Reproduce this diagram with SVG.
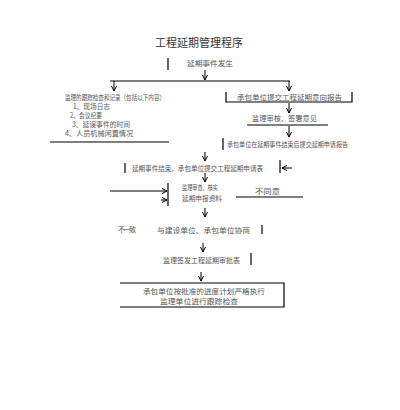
<svg xmlns="http://www.w3.org/2000/svg" width="400" height="410" viewBox="0 0 400 410">
<defs>
<marker id="ah" markerWidth="6" markerHeight="6" refX="5" refY="3" orient="auto" markerUnits="userSpaceOnUse">
<path d="M0,0.5 L5,3 L0,5.5" fill="none" stroke="#000" stroke-width="1"/>
</marker>
<style>
.t{font-family:"Noto Sans CJK SC","Noto Sans",sans-serif;font-size:7px;fill:#555;}
.ti{font-family:"Noto Sans CJK SC","Noto Sans",sans-serif;font-size:11px;fill:#333;}
.b{fill:none;stroke:#000;stroke-width:1.2;}
.c{fill:none;stroke:#000;stroke-width:1;}
.a{marker-end:url(#ah);}
</style>
</defs>
<rect width="400" height="410" fill="#fff"/>
<text class="ti" x="155" y="47" textLength="88" lengthAdjust="spacingAndGlyphs">工程延期管理程序</text>

<g id="n1">
<path class="b" d="M168,58 V70"/>
<text class="t" x="187" y="66" textLength="46" lengthAdjust="spacingAndGlyphs">延期事件发生</text>
</g>
<g id="n2">
<text class="t" x="65" y="100" textLength="100" lengthAdjust="spacingAndGlyphs">监理的跟踪检查和记录（包括以下内容）</text>
<text class="t" x="73" y="109" textLength="37" lengthAdjust="spacingAndGlyphs">1、现场日志</text>
<text class="t" x="70" y="118" textLength="32" lengthAdjust="spacingAndGlyphs">2、会议纪要</text>
<text class="t" x="72" y="127" textLength="58" lengthAdjust="spacingAndGlyphs">3、延误事件的时间</text>
<text class="t" x="65" y="136" textLength="68" lengthAdjust="spacingAndGlyphs">4、人员机械闲置情况</text>
<path class="b" d="M50,142 H169"/>
</g>
<g id="n3">
<path class="b" d="M226,92 V102 H352 V92"/>
<text class="t" x="237" y="100" textLength="105" lengthAdjust="spacingAndGlyphs">承包单位提交工程延期意向报告</text>
</g>
<g id="n4">
<text class="t" x="252" y="121" textLength="65" lengthAdjust="spacingAndGlyphs">监理审核、签署意见</text>
<path class="b" d="M247,125 H328"/>
</g>
<g id="n5">
<path class="b" d="M223,138 V150"/>
<text class="t" x="227" y="147" textLength="121" lengthAdjust="spacingAndGlyphs">承包单位在延期事件结束后提交延期申请报告</text>
</g>
<g id="n6">
<path class="b" d="M125,163 V173"/>
<path class="b" d="M280,160 V173"/>
<text class="t" x="132" y="171" textLength="131" lengthAdjust="spacingAndGlyphs">延期事件结束，承包单位提交工程延期申请表</text>
</g>
<g id="n7">
<path class="b" d="M168,183 V206"/>
<text class="t" x="182" y="190" textLength="36" lengthAdjust="spacingAndGlyphs">监理审查、核实</text>
<text class="t" x="182" y="201" textLength="40" lengthAdjust="spacingAndGlyphs">延期申报资料</text>
</g>
<g id="n8">
<text class="t" x="255" y="194" textLength="25" lengthAdjust="spacingAndGlyphs">不同意</text>
</g>
<g id="n9">
<text class="t" x="118" y="232" textLength="18" lengthAdjust="spacing">不一致</text>
</g>
<g id="n10">
<text class="t" x="157" y="233" textLength="93" lengthAdjust="spacingAndGlyphs">与建设单位、承包单位协商</text>
<path class="b" d="M262,225 V234"/>
</g>
<g id="n11">
<text class="t" x="163" y="263" textLength="77" lengthAdjust="spacingAndGlyphs">监理签发工程延期审批表</text>
<path class="b" d="M251,253 V265"/>
</g>
<g id="n12">
<path class="b" d="M120,283 H284 V307 H120"/>
<text class="t" x="143" y="294" textLength="122" lengthAdjust="spacingAndGlyphs">承包单位按批准的进度计划严格执行</text>
<text class="t" x="160" y="304" textLength="78" lengthAdjust="spacingAndGlyphs">监理单位进行跟踪检查</text>
</g>

<g id="connectors">
<path class="c a" d="M205,70 V80"/>
<path class="b" d="M110,81 H290"/>
<path class="c a" d="M114,81 V91"/>
<path class="c a" d="M289,81 V91"/>
<path class="c a" d="M289,103 V113"/>
<path class="c a" d="M289,126 V137"/>
<path class="c a" d="M205,152 V161"/>
<path class="c a" d="M292,168 H282"/>
<path class="c a" d="M205,173 V182"/>
<path class="b a" d="M110,191 H167"/>
<path class="c a" d="M161,200 H167"/>
<path class="b" d="M236,197 H303"/>
<path class="c a" d="M205,208 V217"/>
<path class="c a" d="M203,243 V252"/>
<path class="c a" d="M201,272 V281"/>
</g>
</svg>
